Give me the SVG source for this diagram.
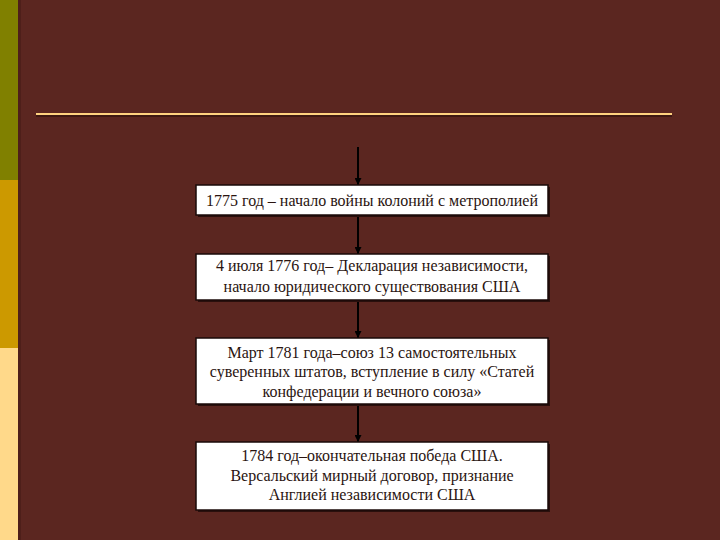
<svg xmlns="http://www.w3.org/2000/svg" width="720" height="540" viewBox="0 0 720 540">
<defs>
<marker id="ah" viewBox="0 0 10 10" refX="10" refY="5" markerWidth="7" markerHeight="7" markerUnits="userSpaceOnUse" orient="auto">
<path d="M0,0 L10,5 L0,10 z" fill="#000"/>
</marker>
</defs>
<style>
.box{fill:#fff;stroke:#1a0a08;stroke-width:1.5}
.shadow{fill:#2a0f0c}
.t{font-family:'Liberation Serif','DejaVu Serif',serif;font-size:16px;fill:#2a1410;text-anchor:middle}
.c{stroke:#000;stroke-width:2;fill:none;marker-end:url(#ah)}
</style>
<rect width="720" height="540" fill="#5B2620"/>
<rect x="0" y="0" width="18" height="180" fill="#808000"/>
<rect x="0" y="180" width="18" height="168" fill="#CC9900"/>
<rect x="0" y="348" width="18" height="192" fill="#FFD98A"/>
<rect x="18" y="0" width="3" height="540" fill="#4E1F1A"/>
<rect x="36" y="115" width="636" height="2" fill="#3E1812"/>
<rect x="36" y="113" width="636" height="2" fill="#FFD27F"/>
<g id="connectors">
<line class="c" x1="358" y1="147" x2="358" y2="185"/>
<line class="c" x1="358" y1="215" x2="358" y2="254"/>
<line class="c" x1="358" y1="300" x2="358" y2="338"/>
<line class="c" x1="358" y1="404" x2="358" y2="442"/>
</g>
<g id="n1">
<rect class="shadow" x="198" y="187" width="352" height="30"/>
<rect class="box" x="196" y="185" width="352" height="30"/>
<text class="t" x="372" y="206" font-family="Liberation Serif, DejaVu Serif, serif">1775 год – начало войны колоний с метрополией</text>
</g>
<g id="n2">
<rect class="shadow" x="198" y="256" width="352" height="46"/>
<rect class="box" x="196" y="254" width="352" height="46"/>
<text class="t" x="372" y="271">4 июля 1776 год– Декларация независимости,</text>
<text class="t" x="372" y="292">начало юридического существования США</text>
</g>
<g id="n3">
<rect class="shadow" x="198" y="340" width="352" height="66"/>
<rect class="box" x="196" y="338" width="352" height="66"/>
<text class="t" x="372" y="358">Март 1781 года–союз 13 самостоятельных</text>
<text class="t" x="372" y="377">суверенных штатов, вступление в силу «Статей</text>
<text class="t" x="372" y="397">конфедерации и вечного союза»</text>
</g>
<g id="n4">
<rect class="shadow" x="198" y="444" width="352" height="68"/>
<rect class="box" x="196" y="442" width="352" height="68"/>
<text class="t" x="372" y="461">1784 год–окончательная победа США.</text>
<text class="t" x="372" y="481">Версальский мирный договор, признание</text>
<text class="t" x="372" y="500">Англией независимости США</text>
</g>
</svg>
